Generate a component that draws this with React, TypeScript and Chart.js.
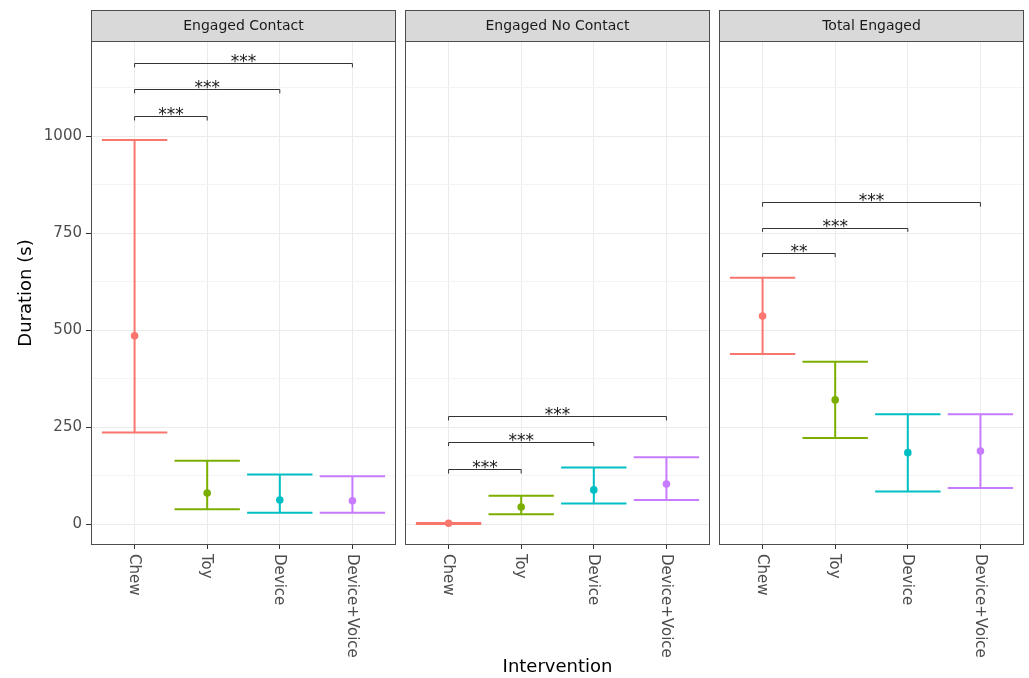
import React, { useEffect, useRef } from 'react';
import { Chart, registerables } from 'chart.js';

Chart.register(...registerables);

const categories = ['Chew', 'Toy', 'Device', 'Device+Voice'];
const colors = ['#F8766D', '#7CAE00', '#00BFC4', '#C77CFF'];
const panelTitles = ['Engaged Contact', 'Engaged No Contact', 'Total Engaged'];

const contactMean = [485, 80, 62, 60];
const contactLow = [236, 38, 29, 29];
const contactHigh = [990, 163, 128, 123];

const noContactMean = [2, 44, 88, 103];
const noContactLow = [0, 25, 53, 62];
const noContactHigh = [3, 73, 146, 172];

const totalMean = [536, 320, 184, 188];
const totalLow = [438, 222, 84, 93];
const totalHigh = [635, 418, 283, 283];

const yGridValues = [0, 125, 250, 375, 500, 625, 750, 875, 1000, 1125];
const yMin = -54;
const yMax = 1245;

// bracket: [target category index, height, label] (all from Chew)
const contactBrackets: [number, number, string][] = [[1, 1051, '***'], [2, 1121, '***'], [3, 1188, '***']];
const noContactBrackets: [number, number, string][] = [[1, 141, '***'], [2, 212, '***'], [3, 278, '***']];
const totalBrackets: [number, number, string][] = [[1, 699, '**'], [2, 764, '***'], [3, 829, '***']];

const panels = [
  { title: panelTitles[0], mean: contactMean, low: contactLow, high: contactHigh, brackets: contactBrackets },
  { title: panelTitles[1], mean: noContactMean, low: noContactLow, high: noContactHigh, brackets: noContactBrackets },
  { title: panelTitles[2], mean: totalMean, low: totalLow, high: totalHigh, brackets: totalBrackets },
];

const FONT = "'DejaVu Sans', sans-serif";
const TOTAL_H = 678;
const STRIP_TOP = 10;
const PANEL_TOP = 41;
const XAXIS_H = 133;

const facetPlugin = {
  id: 'facet',
  beforeDatasetsDraw(chart: any, _args: any, opts: any) {
    const p = opts.panel;
    const { ctx } = chart;
    const xs = chart.scales.x;
    const ys = chart.scales.y;
    ctx.save();
    // error bars
    ctx.lineWidth = 2;
    categories.forEach((_c, i) => {
      const cx = xs.getPixelForValue(i + 1);
      const x0 = xs.getPixelForValue(i + 1 - 0.45);
      const x1 = xs.getPixelForValue(i + 1 + 0.45);
      const yl = ys.getPixelForValue(p.low[i]);
      const yh = ys.getPixelForValue(p.high[i]);
      ctx.strokeStyle = colors[i];
      ctx.beginPath();
      ctx.moveTo(x0, yh);
      ctx.lineTo(x1, yh);
      ctx.moveTo(cx, yh);
      ctx.lineTo(cx, yl);
      ctx.moveTo(x0, yl);
      ctx.lineTo(x1, yl);
      ctx.stroke();
    });
    // significance brackets
    ctx.strokeStyle = '#333333';
    ctx.lineWidth = 1;
    ctx.fillStyle = '#1A1A1A';
    ctx.font = `17px ${FONT}`;
    ctx.textAlign = 'center';
    ctx.textBaseline = 'alphabetic';
    p.brackets.forEach((b: [number, number, string]) => {
      const [target, h, label] = b;
      const xa = xs.getPixelForValue(1);
      const xb = xs.getPixelForValue(target + 1);
      const yb = Math.round(ys.getPixelForValue(h)) + 0.5;
      const yt = ys.getPixelForValue(h - 11);
      ctx.beginPath();
      ctx.moveTo(xa, yt);
      ctx.lineTo(xa, yb);
      ctx.lineTo(xb, yb);
      ctx.lineTo(xb, yt);
      ctx.stroke();
      ctx.fillText(label, (xa + xb) / 2, yb + 3);
    });
    ctx.restore();
  },
  afterDraw(chart: any, _args: any, opts: any) {
    const p = opts.panel;
    const { ctx, chartArea } = chart;
    const xs = chart.scales.x;
    const { left, right, top, bottom } = chartArea;
    ctx.save();
    // panel border
    ctx.strokeStyle = '#4D4D4D';
    ctx.lineWidth = 1;
    ctx.strokeRect(Math.round(left) + 0.5, Math.round(top) + 0.5, Math.round(right - left) - 1, Math.round(bottom - top) - 1);
    // strip
    ctx.fillStyle = '#D9D9D9';
    ctx.fillRect(left, STRIP_TOP, right - left, top - STRIP_TOP);
    ctx.strokeRect(Math.round(left) + 0.5, STRIP_TOP + 0.5, Math.round(right - left) - 1, Math.round(top - STRIP_TOP));
    ctx.fillStyle = '#1A1A1A';
    ctx.font = `14px ${FONT}`;
    ctx.textAlign = 'center';
    ctx.textBaseline = 'middle';
    ctx.fillText(p.title, (left + right) / 2, (STRIP_TOP + top) / 2 + 1);
    // rotated x labels
    ctx.fillStyle = '#4D4D4D';
    ctx.font = `15px ${FONT}`;
    ctx.textAlign = 'left';
    ctx.textBaseline = 'middle';
    categories.forEach((c, i) => {
      const cx = xs.getPixelForValue(i + 1);
      ctx.save();
      ctx.translate(cx - 1, bottom + 9);
      ctx.rotate(Math.PI / 2);
      ctx.fillText(c, 0, 0);
      ctx.restore();
    });
    ctx.restore();
  },
};

function makeConfig(idx: number): any {
  const p = panels[idx];
  const first = idx === 0;
  const middle = idx === 1;
  return {
    type: 'scatter',
    data: {
      datasets: [
        {
          data: p.mean.map((v, i) => ({ x: i + 1, y: v })),
          pointBackgroundColor: colors,
          pointBorderColor: colors,
          pointRadius: 3.8,
          pointBorderWidth: 0,
          showLine: false,
        },
      ],
    },
    options: {
      responsive: false,
      animation: false,
      events: [],
      layout: { padding: { top: PANEL_TOP, left: first ? 0 : 5, right: first ? 4 : 5, bottom: 0 } },
      plugins: {
        legend: { display: false },
        tooltip: { enabled: false },
        facet: { panel: p },
      },
      scales: {
        x: {
          type: 'linear',
          min: 0.4,
          max: 4.6,
          afterBuildTicks: (s: any) => {
            s.ticks = [1, 2, 3, 4].map((v) => ({ value: v }));
          },
          afterFit: (s: any) => {
            s.height = XAXIS_H;
          },
          ticks: { display: false },
          grid: {
            color: '#EBEBEB',
            lineWidth: 1,
            drawTicks: true,
            tickLength: 4,
            tickColor: '#333333',
          },
          border: { display: false },
          title: {
            display: middle,
            text: 'Intervention',
            color: '#000000',
            font: { family: FONT, size: 18 },
            padding: { top: 0, bottom: 0 },
          },
        },
        y: {
          type: 'linear',
          min: yMin,
          max: yMax,
          afterBuildTicks: (s: any) => {
            s.ticks = yGridValues.map((v) => ({ value: v }));
          },
          afterFit: (s: any) => {
            s.width = first ? 91 : 0;
          },
          ticks: {
            display: first,
            color: '#4D4D4D',
            font: { family: FONT, size: 15 },
            padding: 4,
            callback: (v: number) => (v % 250 === 0 ? String(v) : ''),
          },
          grid: {
            color: (c: any) => (c.tick && c.tick.value % 250 === 0 ? '#EBEBEB' : '#F4F4F4'),
            lineWidth: 1,
            drawTicks: first,
            tickLength: 5,
            tickColor: (c: any) => (c.tick && c.tick.value % 250 === 0 ? '#333333' : 'rgba(0,0,0,0)'),
          },
          border: { display: false },
          title: {
            display: first,
            text: 'Duration (s)',
            color: '#000000',
            font: { family: FONT, size: 18 },
            padding: { top: 16, bottom: 0 },
          },
        },
      },
    },
    plugins: [facetPlugin],
  };
}

const layoutBoxes = [
  { left: 0, width: 400 },
  { left: 400, width: 315 },
  { left: 714, width: 315 },
];

function Panel({ idx }: { idx: number }) {
  const ref = useRef<HTMLCanvasElement | null>(null);
  useEffect(() => {
    if (!ref.current) return;
    const chart = new Chart(ref.current, makeConfig(idx));
    return () => chart.destroy();
  }, [idx]);
  const box = layoutBoxes[idx];
  return (
    <canvas
      ref={ref}
      width={box.width}
      height={TOTAL_H}
      style={{ position: 'absolute', left: box.left, top: 0, width: box.width, height: TOTAL_H }}
    />
  );
}

export default function App() {
  return (
    <div style={{ position: 'absolute', left: 0, top: 0, width: 1029, height: TOTAL_H, background: '#FFFFFF' }}>
      <Panel idx={0} />
      <Panel idx={1} />
      <Panel idx={2} />
    </div>
  );
}
